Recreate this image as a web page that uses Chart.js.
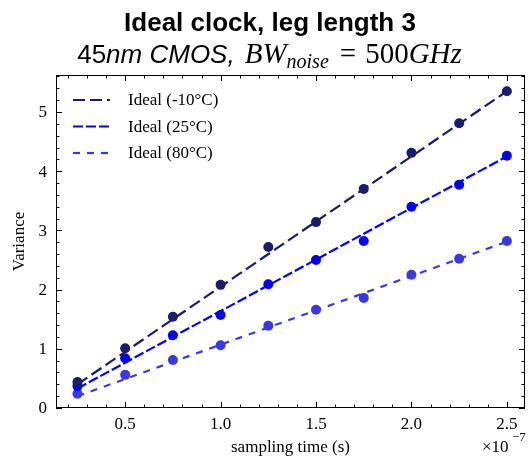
<!DOCTYPE html>
<html>
<head>
<meta charset="utf-8">
<script src="https://cdn.jsdelivr.net/npm/chart.js@4"></script>
<style>
  html, body { margin: 0; padding: 0; background: #fff; }
  canvas { display: block; }
</style>
</head>
<body>
<canvas id="c" width="530" height="461"></canvas>
<script>
// ---- data (sampling time in units of 1e-7 s) ----
const samplingTimes = [0.25, 0.5, 0.75, 1.0, 1.25, 1.5, 1.75, 2.0, 2.25, 2.5];
const varianceM10 = [0.44, 1.01, 1.54, 2.08, 2.72, 3.14, 3.70, 4.31, 4.81, 5.35];
const variance25  = [0.37, 0.84, 1.23, 1.57, 2.09, 2.50, 2.82, 3.40, 3.77, 4.26];
const variance80  = [0.24, 0.56, 0.81, 1.06, 1.39, 1.66, 1.86, 2.25, 2.52, 2.82];
// ideal (fitted) lines, evaluated at first and last sampling time
const fitTimes = [0.25, 2.5];
const idealM10 = [0.40, 5.35];
const ideal25  = [0.33, 4.25];
const ideal80  = [0.20, 2.81];
const seriesLabels = ['Ideal (-10°C)', 'Ideal (25°C)', 'Ideal (80°C)'];
const xTickLabels = ['0.5', '1.0', '1.5', '2.0', '2.5'];
const xTickValues = [0.5, 1.0, 1.5, 2.0, 2.5];
const yTickLabels = ['0', '1', '2', '3', '4', '5'];
const yTickValues = [0, 1, 2, 3, 4, 5];

const colors = ['#1b1b6f', '#0000ff', '#3838e6'];
const dashes = [[12, 5], [10, 3], [7, 7]];

function pts(xs, ys) { return xs.map((x, i) => ({ x: x, y: ys[i] })); }

const lineSets = [idealM10, ideal25, ideal80].map((ys, i) => ({
  type: 'line', label: seriesLabels[i], data: pts(fitTimes, ys),
  borderColor: colors[i], borderWidth: 2.2, borderDash: dashes[i],
  pointRadius: 0, fill: false, order: 0
}));
const pointSets = [varianceM10, variance25, variance80].map((ys, i) => ({
  type: 'scatter', label: seriesLabels[i] + ' data', data: pts(samplingTimes, ys),
  backgroundColor: colors[i], borderColor: colors[i], pointRadius: 5, borderWidth: 0,
  showLine: false, order: 1
}));

const SERIF = '"Liberation Serif", "Times New Roman", serif';
const SANS = '"Liberation Sans", Arial, sans-serif';

function drawParts(ctx, parts, x0, base) {
  parts.forEach(p => { ctx.font = p.f; ctx.fillText(p.t, x0 + (p.pre || 0), base + (p.dy || 0)); x0 += p.w; });
}
function measureParts(ctx, parts) {
  let total = 0;
  parts.forEach(p => { ctx.font = p.f; p.w = ctx.measureText(p.t).width + (p.pre || 0) + (p.post || 0); total += p.w; });
  return total;
}

const decor = {
  id: 'decor',
  afterDraw(chart) {
    const ctx = chart.ctx;
    const a = chart.chartArea;
    const xs = chart.scales.x, ys = chart.scales.y;
    ctx.save();
    // frame
    ctx.strokeStyle = '#000';
    ctx.lineWidth = 1;
    ctx.strokeRect(a.left + 0.5, a.top + 0.5, a.right - a.left - 1, a.bottom - a.top - 1);
    // ticks (inward, all sides)
    ctx.beginPath();
    const tick = (px, len, horiz) => {
      const p = Math.round(px) + 0.5;
      if (horiz) {
        ctx.moveTo(p, a.bottom); ctx.lineTo(p, a.bottom - len);
        ctx.moveTo(p, a.top); ctx.lineTo(p, a.top + len);
      } else {
        ctx.moveTo(a.left, p); ctx.lineTo(a.left + len, p);
        ctx.moveTo(a.right, p); ctx.lineTo(a.right - len, p);
      }
    };
    for (let k = 2; k <= 25; k++) {
      const px = xs.getPixelForValue(k / 10);
      if (px < a.left || px > a.right) continue;
      tick(px, k % 5 === 0 ? 6 : 3.5, true);
    }
    for (let k = 0; k <= 28; k++) {
      const px = ys.getPixelForValue(k / 5);
      if (px < a.top || px > a.bottom) continue;
      tick(px, k % 5 === 0 ? 6 : 3.5, false);
    }
    ctx.stroke();

    // tick labels
    ctx.fillStyle = '#000';
    ctx.font = '17px ' + SERIF;
    ctx.textAlign = 'center'; ctx.textBaseline = 'top';
    xTickValues.forEach((v, i) => ctx.fillText(xTickLabels[i], xs.getPixelForValue(v), a.bottom + 8));
    ctx.textAlign = 'right'; ctx.textBaseline = 'middle';
    yTickValues.forEach((v, i) => ctx.fillText(yTickLabels[i], a.left - 9, ys.getPixelForValue(v) + 1));

    // axis titles
    ctx.textAlign = 'center'; ctx.textBaseline = 'alphabetic';
    ctx.font = '17px ' + SERIF;
    ctx.fillText('sampling time (s)', (a.left + a.right) / 2, 452);
    ctx.save();
    ctx.translate(24, (a.top + a.bottom) / 2);
    ctx.rotate(-Math.PI / 2);
    ctx.fillText('Variance', 0, 0);
    ctx.restore();
    // offset text ×10^-7
    ctx.textAlign = 'left';
    ctx.font = '17px ' + SERIF;
    ctx.fillText('×10', 482, 452);
    ctx.font = '13px ' + SERIF;
    ctx.fillText('−7', 512, 441);

    // legend
    const lx = a.left + 17, tx = a.left + 72;
    lineSets.forEach((ds, i) => {
      const yy = 100 + i * 26.5;
      ctx.strokeStyle = ds.borderColor; ctx.lineWidth = ds.borderWidth;
      ctx.setLineDash(ds.borderDash);
      ctx.beginPath(); ctx.moveTo(lx, yy); ctx.lineTo(lx + 37, yy); ctx.stroke();
      ctx.setLineDash([]);
      ctx.font = '17px ' + SERIF;
      ctx.textAlign = 'left'; ctx.textBaseline = 'middle';
      ctx.fillText(ds.label, tx, yy + 1);
    });

    // titles
    ctx.textBaseline = 'alphabetic';
    ctx.textAlign = 'left';
    ctx.font = 'bold 26px ' + SANS;
    const t1 = 'Ideal clock, leg length 3';
    const w1 = ctx.measureText(t1).width;
    ctx.fillText(t1, 270 - w1 / 2, 31);
    // line 2 with mixed fonts
    const parts = [
      { t: '45', f: '26px ' + SANS },
      { t: 'nm CMOS,', f: 'italic 26px ' + SANS, post: 10 },
      { t: 'BW', f: 'italic 29px ' + SERIF },
      { t: 'noise', f: 'italic 20px ' + SERIF, dy: 5, post: 2 },
      { t: '=', f: '29px ' + SERIF, pre: 9, post: 9 },
      { t: '500', f: '29px ' + SERIF },
      { t: 'GHz', f: 'italic 29px ' + SERIF, post: 1 }
    ];
    const total = measureParts(ctx, parts);
    drawParts(ctx, parts, 270 - total / 2, 63);
    ctx.restore();
  }
};

new Chart(document.getElementById('c'), {
  data: { datasets: [...lineSets, ...pointSets] },
  options: {
    responsive: false,
    animation: false,
    devicePixelRatio: 1,
    layout: { padding: { left: 56, top: 75, right: 1, bottom: 53 } },
    plugins: { legend: { display: false }, tooltip: { enabled: false }, title: { display: false } },
    scales: {
      x: { type: 'linear', min: 0.1375, max: 2.595, display: false },
      y: { type: 'linear', min: 0, max: 5.625, display: false }
    }
  },
  plugins: [decor]
});
</script>
</body>
</html>
